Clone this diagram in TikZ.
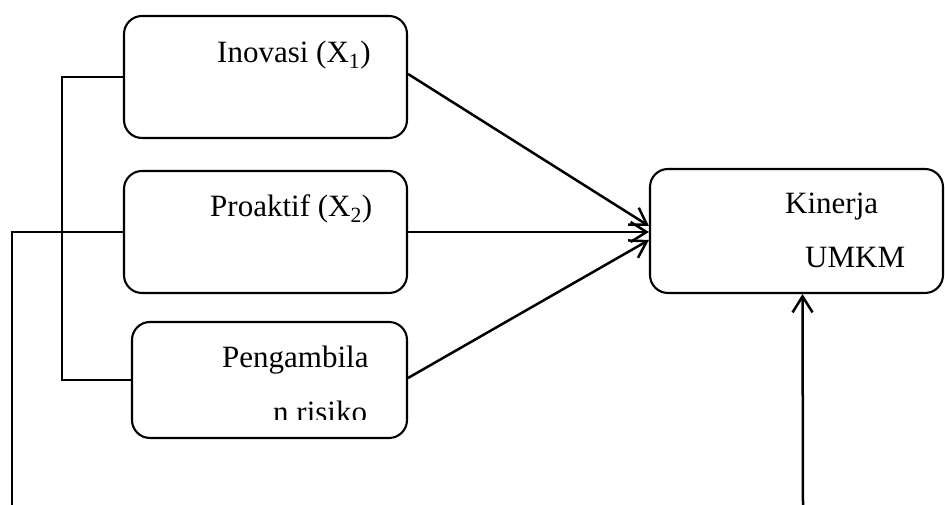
\documentclass[tikz,border=0pt]{standalone}
\usepackage{fontspec}
\setmainfont{Liberation Serif}
\usetikzlibrary{arrows.meta,calc}
\begin{document}
\begin{tikzpicture}[x=1pt,y=1pt,
  box/.style={draw,line width=2.1pt,rounded corners=18pt,inner sep=0pt},
  conn/.style={line width=2.5pt},
  arr/.style={line width=2.5pt,-{Straight Barb[length=16pt,width=20pt,line width=2.5pt]}},
  lbl/.style={anchor=base west,inner sep=0pt,font=\fontsize{31}{36}\selectfont}]
\useasboundingbox (0,0) rectangle (945,505);
% boxes
\node[box,minimum width=283pt,minimum height=122pt] (b1) at (265.5,428) {};
\node[box,minimum width=283pt,minimum height=122pt] (b2) at (265.5,273) {};
\node[box,minimum width=275pt,minimum height=116pt] (b3) at (269.5,125) {};
\node[box,minimum width=293pt,minimum height=124pt] (k) at (796.5,274) {};
% labels
\node[lbl] (t1) at (217,442) {Inovasi (X\textsubscript{1})};
\node[lbl] (t2) at (210,288) {Proaktif (X\textsubscript{2})};
\node[lbl] (t3) at (222,137) {Pengambila};
\begin{scope}
\clip (0,85) rectangle (945,505);
\node[lbl] (t4) at (273,82) {n risiko};
\end{scope}
\node[lbl] (t5) at (785,291) {Kinerja};
\node[lbl] (t6) at (805,237) {UMKM};
% arrows to Kinerja
\draw[arr] ([yshift=3pt]b1.east) -- ([yshift=5pt]k.west);
\draw[arr] (b2.east) -- (b2.east -| k.west);
\draw[arr] ([yshift=2pt]b3.east) -- ([yshift=-9pt]k.west);
% bracket on the left
\draw[conn] (b1.west) -- ++(-61,0) |- (b3.west);
% outer line
\coordinate (o) at (12,0);
\draw[conn] (b2.west) -| (o);
% vertical arrow up to Kinerja
\coordinate (v) at (803,0);
\draw[arr] (v) -- ([xshift=6pt]k.south);
\end{tikzpicture}
\end{document}
